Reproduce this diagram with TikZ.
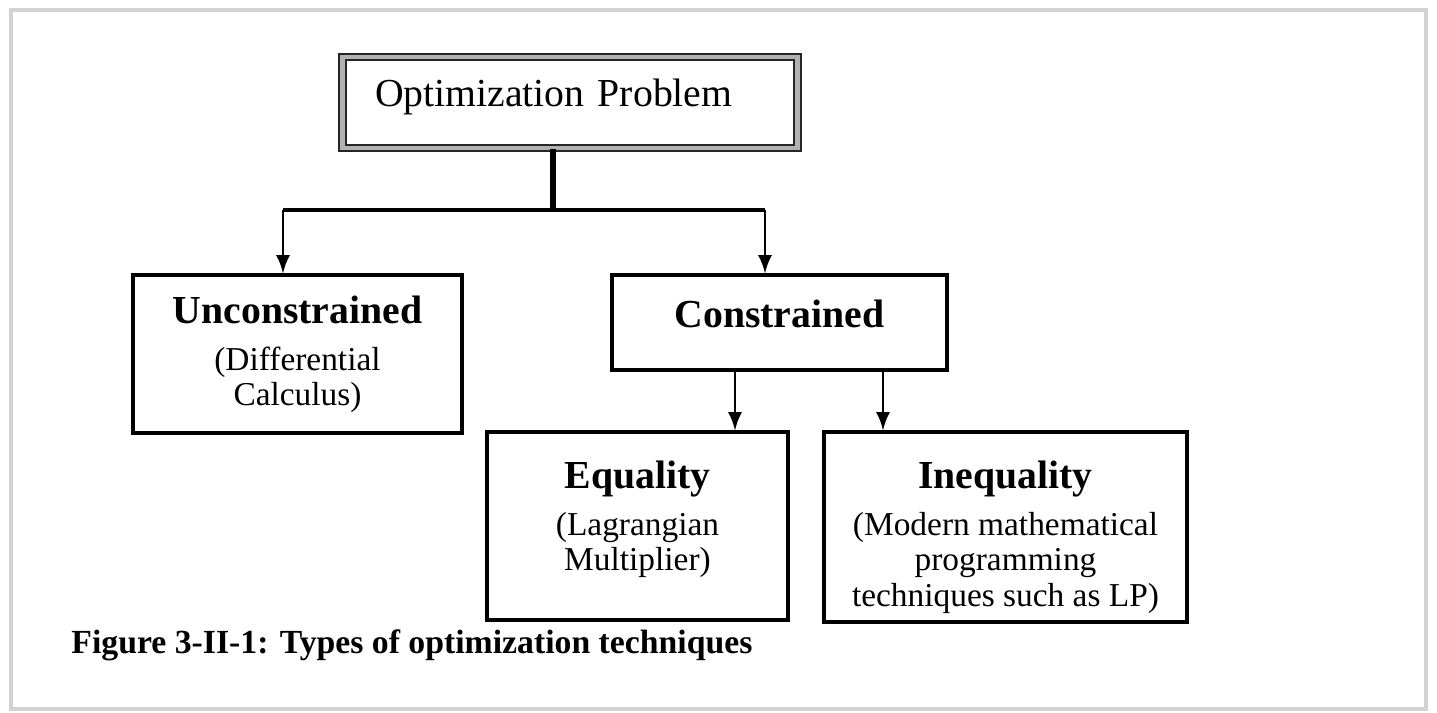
\documentclass[tikz,border=0pt]{standalone}
\usepackage{fontspec}
\setmainfont{Liberation Serif}
\usetikzlibrary{positioning}

\newcommand{\headfont}{\fontsize{11.3}{13.5}\selectfont\bfseries}

\tikzset{
  box/.style={draw, line width=0.9pt, align=center, inner sep=0pt,
              font=\fontsize{9.5}{10}\selectfont},
  boxtext/.style={anchor=north, align=center, inner sep=0pt,
              font=\fontsize{9.5}{10}\selectfont},
}

\begin{document}
\begin{tikzpicture}
	\useasboundingbox (0,0) rectangle (14.37,7.13);
	\draw [gray!35, line width=1pt] (0.11,0.04) rectangle (14.26,7.03);

	% boxes
	\node [draw=black!85, line width=0.6pt, double=gray!60, double distance=1.2pt,
	       minimum height=0.91cm, inner xsep=0.325cm, text width=3.90cm, align=left,
	       font=\fontsize{11.3}{13}\selectfont] (top) at (5.70,6.105) {\raisebox{1.5pt}[\height][\depth]{Optimization Problem}};

	\node [box, minimum width=3.29cm, minimum height=1.58cm] (uncon) at (2.975,3.59)
	      {{\headfont Unconstrained}\\[3.4pt] (Differential\\ Calculus)};
	\node [box, minimum width=3.35cm, minimum height=0.95cm] (con) at (7.795,3.905)
	      {\headfont\raisebox{2.3pt}[\height][\depth]{Constrained}};
	\node [box, minimum width=3.01cm, minimum height=1.88cm] (eq) at (6.375,1.87) {};
	\node [boxtext, below=0.30cm of eq.north] (eqtext)
	      {{\headfont Equality}\\[3.4pt] (Lagrangian\\ Multiplier)};
	\node [box, minimum width=3.63cm, minimum height=1.90cm] (ineq) at (10.055,1.86) {};
	\node [boxtext, below=0.30cm of ineq.north] (ineqtext)
	      {{\headfont Inequality}\\[3.4pt] (Modern mathematical\\ programming\\ techniques such as LP)};

	\node [anchor=west, font=\fontsize{9.6}{11}\selectfont\bfseries] (cap) at (0.59,0.68)
	      {Figure 3-II-1: Types of optimization techniques};

	% connectors
	\coordinate (split) at (5.53,5.03);
	\coordinate (j1) at (2.83,5.03);
	\coordinate (j2) at (7.65,5.03);
	\draw [line width=1.6pt] (top.south -| split) -- (split);
	\draw [line width=1.1pt] (j1) -- (j2);
	\draw [->, >=latex, line width=0.8pt] (j1) -- (j1 |- uncon.north);
	\draw [->, >=latex, line width=0.8pt] (j2) -- (j2 |- con.north);
	\draw [->, >=latex, line width=0.8pt] ([xshift=-0.445cm]con.south) -- ([xshift=-0.445cm]con.south |- eq.north);
	\draw [->, >=latex, line width=0.8pt] ([xshift=1.035cm]con.south) -- ([xshift=1.035cm]con.south |- ineq.north);
\end{tikzpicture}
\end{document}
